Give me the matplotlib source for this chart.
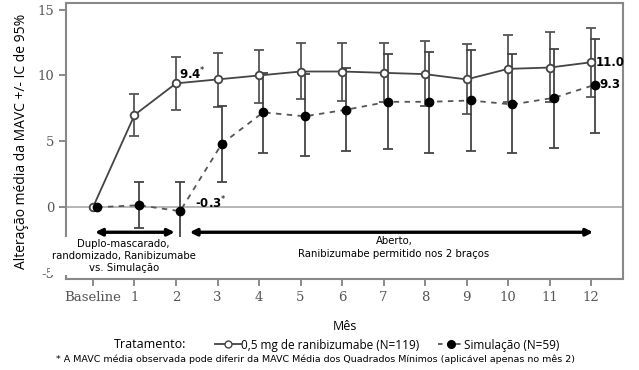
import numpy as np
import matplotlib
matplotlib.use("Agg")
import matplotlib.pyplot as plt
from matplotlib.lines import Line2D

# ---- data ----
tick_labels = ["Baseline", "1", "2", "3", "4", "5", "6", "7", "8", "9", "10", "11", "12"]
months = [0, 1, 2, 3, 4, 5, 6, 7, 8, 9, 10, 11, 12]
rani_mean = [0, 7.0, 9.4, 9.7, 10.0, 10.3, 10.3, 10.2, 10.1, 9.7, 10.5, 10.6, 11.0]
rani_lo = [0, 5.4, 7.4, 7.6, 7.9, 8.2, 8.05, 8.0, 7.65, 7.05, 8.0, 8.0, 8.4]
rani_hi = [0, 8.6, 11.4, 11.7, 11.95, 12.45, 12.5, 12.5, 12.6, 12.35, 13.1, 13.3, 13.6]
sim_mean = [0, 0.15, -0.3, 4.8, 7.2, 6.9, 7.4, 8.0, 8.0, 8.1, 7.8, 8.3, 9.3]
sim_lo = [0, -1.6, -2.3, 1.9, 4.1, 3.85, 4.3, 4.4, 4.15, 4.3, 4.1, 4.5, 5.6]
sim_hi = [0, 1.9, 1.9, 7.65, 10.2, 10.1, 10.6, 11.6, 11.8, 11.9, 11.6, 12.0, 12.8]
y_ticks = [-5, 0, 5, 10, 15]

sim_offset = 0.1

fig = plt.figure(figsize=(6.39, 3.70), dpi=100)
ax = fig.add_axes([0.1033, 0.2459, 0.975 - 0.1033, 0.9919 - 0.2459])

x = np.array(months, dtype=float)
rm = np.array(rani_mean); rl = np.array(rani_lo); rh = np.array(rani_hi)
sm = np.array(sim_mean); sl = np.array(sim_lo); sh = np.array(sim_hi)
xs = x + sim_offset

ebc = "#555555"
# zero line
ax.axhline(0, color="#aaaaaa", lw=1.2, zorder=1)

# error bars (exclude baseline)
ax.errorbar(x[1:], rm[1:], yerr=[rm[1:] - rl[1:], rh[1:] - rm[1:]], fmt="none",
            ecolor=ebc, elinewidth=1.3, capsize=3.6, capthick=1.3, zorder=2)
ax.errorbar(xs[1:], sm[1:], yerr=[sm[1:] - sl[1:], sh[1:] - sm[1:]], fmt="none",
            ecolor="#444444", elinewidth=1.3, capsize=3.6, capthick=1.3, zorder=2)

ax.plot(x, rm, "-", color="#444444", lw=1.3, marker="o", ms=5.5, mfc="white",
        mec="#444444", mew=1.3, zorder=4)
ax.plot(xs, sm, "--", color="#555555", lw=1.3, dashes=(3, 3), marker="o", ms=6,
        mfc="black", mec="black", zorder=4)

ax.set_xlim(-0.65, 12.77)
ax.set_ylim(-5.45, 15.5)
ax.set_xticks(months)
ax.set_xticklabels(tick_labels)
ax.set_yticks(y_ticks)
ax.set_yticklabels(["-5", "0", "5", "10", "15"])
ax.tick_params(axis="both", direction="out", length=5, width=1.2, color="#777777",
               labelcolor="#555555", labelsize=10)
for lab in ax.get_xticklabels() + ax.get_yticklabels():
    lab.set_family("DejaVu Serif")
    lab.set_fontsize(9.5)
for s in ax.spines.values():
    s.set_color("#888888")
    s.set_linewidth(1.5)

ax.set_ylabel("Alteração média da MAVC +/- IC de 95%", fontsize=10,
              family="Open Sans", labelpad=6)
ax.set_xlabel("Mês", fontsize=9, family="Open Sans", labelpad=12)

# annotations
ax.text(2.07, 10.1, r"9.4$^{*}$", fontsize=8.5, fontweight="bold", ha="left", va="center", zorder=6)
ax.text(2.45, 0.3, r"-0.3$^{*}$", fontsize=8.5, fontweight="bold", ha="left", va="center", zorder=6)
ax.text(12.12, 11.0, "11.0", fontsize=8.5, fontweight="bold", ha="left", va="center", zorder=6)
ax.text(12.2, 9.3, "9.3", fontsize=8.5, fontweight="bold", ha="left", va="center", zorder=6)

# arrows
ax.annotate("", xy=(0.05, -1.9), xytext=(1.97, -1.9),
            arrowprops=dict(arrowstyle="<|-|>", color="black", lw=2.4,
                            mutation_scale=10, shrinkA=0, shrinkB=0))
ax.annotate("", xy=(12.05, -1.9), xytext=(2.33, -1.9),
            arrowprops=dict(arrowstyle="<|-|>", color="black", lw=2.4,
                            mutation_scale=10, shrinkA=0, shrinkB=0))

ax.text(0.74, -3.7, "Duplo-mascarado,\nrandomizado, Ranibizumabe\nvs. Simulação",
        fontsize=7.3, ha="center", va="center", linespacing=1.3, zorder=5, clip_on=False,
        bbox=dict(facecolor="white", edgecolor="none", pad=1))
ax.text(7.25, -3.05, "Aberto,\nRanibizumabe permitido nos 2 braços",
        fontsize=7.3, ha="center", va="center", linespacing=1.3, zorder=5)

# legend row
fig.text(150 / 639, 1 - 345 / 370, "Tratamento:", fontsize=9, family="Open Sans",
         ha="center", va="center")
h1 = Line2D([], [], color="#444444", lw=1.3, marker="o", ms=5, mfc="white", mec="#444444")
h2 = Line2D([], [], color="#555555", lw=1.3, ls="--", dashes=(2.5, 2.5), marker="o", ms=5.5,
            mfc="black", mec="black")
leg = fig.legend([h1, h2], ["0,5 mg de ranibizumabe (N=119)", "Simulação (N=59)"],
                 loc="center", bbox_to_anchor=(387 / 639, 1 - 345 / 370), ncol=2,
                 frameon=False, prop={"family": "Open Sans", "size": 8.5},
                 handlelength=2.2, handletextpad=0.0, columnspacing=1.6,
                 borderpad=0, borderaxespad=0)
fig.text(316 / 639, 1 - 359 / 370,
         "* A MAVC média observada pode diferir da MAVC Média dos Quadrados Mínimos (aplicável apenas no mês 2)",
         fontsize=6.8, ha="center", va="center")

fig.savefig("out.png", dpi=100)
